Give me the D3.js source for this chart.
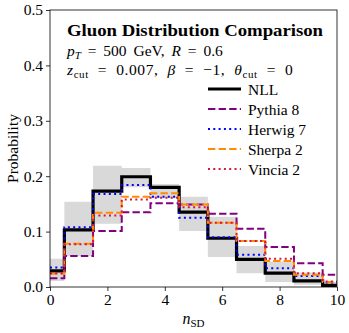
<!DOCTYPE html>
<html lang="en">
<head>
<meta charset="UTF-8">
<title>Gluon Distribution Comparison</title>
<script src="https://d3js.org/d3.v7.min.js"></script>
<style>
  body { margin: 0; background: #fff; }
</style>
</head>
<body>
<svg width="349" height="333"></svg>
<script>
// data
const nSD = [0, 1, 2, 3, 4, 5, 6, 7, 8, 9, 10];
const nll     = [0.029, 0.103, 0.173, 0.199, 0.180, 0.135, 0.088, 0.050, 0.025, 0.011, 0.003];
const pythia  = [0.016, 0.056, 0.101, 0.135, 0.151, 0.149, 0.132, 0.105, 0.072, 0.043, 0.022];
const herwig  = [0.035, 0.108, 0.168, 0.184, 0.163, 0.125, 0.090, 0.058, 0.034, 0.020, 0.008];
const sherpa  = [0.024, 0.078, 0.134, 0.163, 0.169, 0.149, 0.116, 0.083, 0.047, 0.022, 0.009];
const vincia  = [0.025, 0.077, 0.129, 0.158, 0.161, 0.144, 0.116, 0.083, 0.051, 0.025, 0.010];
const bandLo  = [0.011, 0.056, 0.114, 0.180, 0.160, 0.101, 0.054, 0.025, 0.009, 0.004, 0.000];
const bandHi  = [0.051, 0.154, 0.219, 0.215, 0.186, 0.163, 0.127, 0.074, 0.046, 0.026, 0.009];
const xTicks = [0, 2, 4, 6, 8, 10];
const yTicks = [0, 0.1, 0.2, 0.3, 0.4, 0.5];

const series = [
  {name: "NLL",      vals: nll,    color: "#000000", width: 3.2, dash: null},
  {name: "Pythia 8", vals: pythia, color: "#800080", width: 2,   dash: "7.4,3.2"},
  {name: "Herwig 7", vals: herwig, color: "#0000ff", width: 2,   dash: "2,3.3"},
  {name: "Sherpa 2", vals: sherpa, color: "#ff8c00", width: 2,   dash: "7.4,3.2"},
  {name: "Vincia 2", vals: vincia, color: "#dc143c", width: 2,   dash: "2,3.3"}
];

const FONT = '"Liberation Serif", "Times New Roman", serif';
const svg = d3.select("svg").style("font-family", FONT);
const margin = {left: 50, right: 12, top: 10, bottom: 46};
const W = 349, H = 333;

const x = d3.scaleLinear().domain([0, 10]).range([margin.left, W - margin.right]);
const y = d3.scaleLinear().domain([0, 0.5]).range([H - margin.bottom, margin.top]);

// uncertainty band
const area = d3.area()
  .curve(d3.curveStep)
  .x((d, i) => x(nSD[i]))
  .y0((d, i) => y(bandLo[i]))
  .y1((d, i) => y(bandHi[i]));
svg.append("path")
  .datum(nSD)
  .attr("d", area)
  .attr("fill", "#d9d9d9");

// step lines
const line = d3.line().curve(d3.curveStep);
series.forEach(s => {
  svg.append("path")
    .datum(s.vals.map((v, i) => [x(nSD[i]), y(v)]))
    .attr("d", line)
    .attr("fill", "none")
    .attr("stroke", s.color)
    .attr("stroke-width", s.width)
    .attr("stroke-dasharray", s.dash);
});

// axes
const xAxis = svg.append("g")
  .attr("transform", `translate(0,${H - margin.bottom})`)
  .call(d3.axisBottom(x).tickValues(xTicks).tickSize(4).tickPadding(3).tickFormat(d3.format("d")));
const yAxis = svg.append("g")
  .attr("transform", `translate(${margin.left},0)`)
  .call(d3.axisLeft(y).tickValues(yTicks).tickSize(4).tickPadding(3).tickFormat(d3.format(".1f")));
[xAxis, yAxis].forEach(g => {
  g.attr("font-family", null).attr("font-size", null);
  g.select(".domain").remove();
  g.selectAll("text").style("font-family", FONT).style("font-size", "15.5px").attr("fill", "#000");
  g.selectAll("line").attr("stroke", "#000").attr("stroke-width", 0.8);
});

// frame
svg.append("rect")
  .attr("x", x(0)).attr("y", y(0.5))
  .attr("width", x(10) - x(0)).attr("height", y(0) - y(0.5))
  .attr("fill", "none").attr("stroke", "#000").attr("stroke-width", 0.8);

// axis labels
svg.append("text")
  .attr("transform", `translate(12,${(y(0) + y(0.5)) / 2}) rotate(-90)`)
  .attr("text-anchor", "middle")
  .attr("dominant-baseline", "central")
  .style("font-family", FONT)
  .style("font-size", "15.5px")
  .text("Probability");

const xl = svg.append("text")
  .attr("x", (x(0) + x(10)) / 2)
  .attr("y", 324)
  .attr("text-anchor", "middle")
  .style("font-family", FONT)
  .style("font-size", "16px");
xl.append("tspan").style("font-style", "italic").text("n");
xl.append("tspan").attr("dy", 3).style("font-size", "11px").text("SD");

// title block
svg.append("text")
  .attr("x", 67).attr("y", 36)
  .style("font-family", FONT)
  .style("font-size", "16px").style("font-weight", "bold")
  .attr("textLength", 256).attr("lengthAdjust", "spacingAndGlyphs")
  .text("Gluon Distribution Comparison");

const l2 = svg.append("text").attr("x", 67).attr("y", 56)
  .style("font-family", FONT).style("font-size", "15.5px")
  .style("word-spacing", "3px");
l2.append("tspan").style("font-style", "italic").text("p");
l2.append("tspan").attr("dy", 3).style("font-size", "11px").style("font-style", "italic").text("T");
l2.append("tspan").attr("dy", -3).text(" = 500 GeV, ");
l2.append("tspan").style("font-style", "italic").text("R");
l2.append("tspan").text(" = 0.6");

const l3 = svg.append("text").attr("x", 67).attr("y", 75)
  .style("font-family", FONT).style("font-size", "15.5px")
  .style("letter-spacing", "0.6px").style("word-spacing", "4.5px");
l3.append("tspan").style("font-style", "italic").text("z");
l3.append("tspan").attr("dy", 3).style("font-size", "11px").text("cut");
l3.append("tspan").attr("dy", -3).text(" = 0.007, ");
l3.append("tspan").style("font-style", "italic").text("β");
l3.append("tspan").text(" = −1, ");
l3.append("tspan").style("font-style", "italic").text("θ");
l3.append("tspan").attr("dy", 3).style("font-size", "11px").text("cut");
l3.append("tspan").attr("dy", -3).text(" = 0");

// legend
const legend = svg.append("g");
series.forEach((s, i) => {
  const ly = 89 + i * 20;
  legend.append("line")
    .attr("x1", 208).attr("x2", 241).attr("y1", ly).attr("y2", ly)
    .attr("stroke", s.color).attr("stroke-width", s.width)
    .attr("stroke-dasharray", s.dash);
  legend.append("text")
    .attr("x", 248).attr("y", ly)
    .attr("dominant-baseline", "central")
    .style("font-family", FONT)
    .style("font-size", "15.5px")
    .text(s.name);
});
</script>
</body>
</html>
